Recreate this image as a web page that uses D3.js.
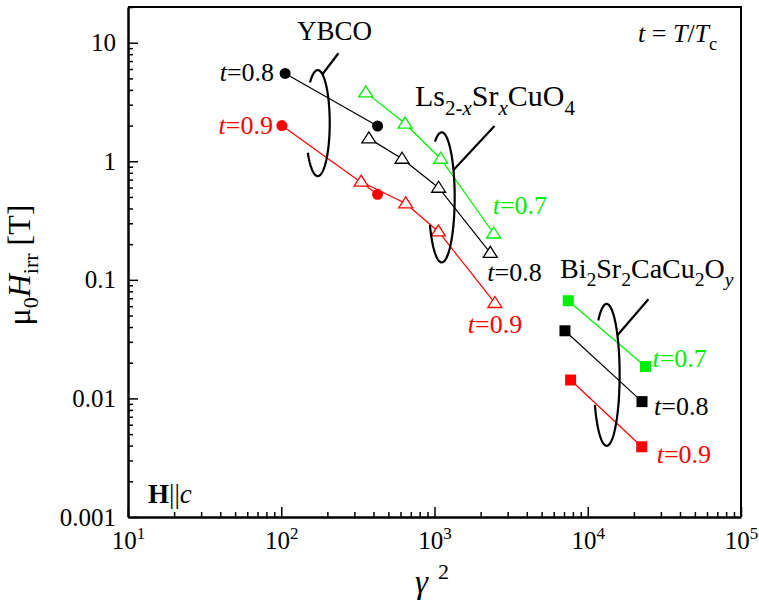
<!DOCTYPE html>
<html>
<head>
<meta charset="utf-8">
<script src="https://cdn.jsdelivr.net/npm/d3@7"></script>
<style>
  body { margin: 0; background: #fff; }
  svg text, svg tspan { font-family: "Liberation Serif", "Times New Roman", serif !important; }
</style>
</head>
<body>
<script>
// ---- data ----
var ybcoGamma2T08 = [106, 425];
var ybcoHirrT08 = [5.5, 1.98];
var ybcoGamma2T09 = [101, 425];
var ybcoHirrT09 = [2.0, 0.526];

var lscoGamma2T07 = [356, 643, 1097, 2432];
var lscoHirrT07 = [3.81, 2.08, 1.05, 0.246];
var lscoGamma2T08 = [373, 614, 1064, 2312];
var lscoHirrT08 = [1.56, 1.05, 0.598, 0.169];
var lscoGamma2T09 = [332, 649, 1059, 2477];
var lscoHirrT09 = [0.673, 0.441, 0.256, 0.0638];

var biGamma2T07 = [7460, 23800];
var biHirrT07 = [0.0667, 0.0186];
var biGamma2T08 = [7100, 22600];
var biHirrT08 = [0.0372, 0.0094];
var biGamma2T09 = [7730, 22500];
var biHirrT09 = [0.0143, 0.00391];

var xMajorTicks = [10, 100, 1000, 10000, 100000];
var xTickExp = ["1", "2", "3", "4", "5"];
var yMajorTicks = [0.001, 0.01, 0.1, 1, 10];
var yTickLabels = ["0.001", "0.01", "0.1", "1", "10"];

function zip(xs, ys) {
    return xs.map(function (v, i) { return { x: v, y: ys[i] }; });
}

var series = [
    { name: "ybco08", pts: zip(ybcoGamma2T08, ybcoHirrT08), color: "#000", marker: "circle" },
    { name: "ybco09", pts: zip(ybcoGamma2T09, ybcoHirrT09), color: "#ff0000", marker: "circle" },
    { name: "lsco07", pts: zip(lscoGamma2T07, lscoHirrT07), color: "#00ee00", marker: "triangle" },
    { name: "lsco08", pts: zip(lscoGamma2T08, lscoHirrT08), color: "#000", marker: "triangle" },
    { name: "lsco09", pts: zip(lscoGamma2T09, lscoHirrT09), color: "#ff0000", marker: "triangle" },
    { name: "bi07", pts: zip(biGamma2T07, biHirrT07), color: "#00ee00", marker: "square" },
    { name: "bi08", pts: zip(biGamma2T08, biHirrT08), color: "#000", marker: "square" },
    { name: "bi09", pts: zip(biGamma2T09, biHirrT09), color: "#ff0000", marker: "square" }
];

var FONT = "Liberation Serif";

// ---- layout ----
var margin = { top: 7, right: 18, bottom: 91, left: 128 },
    width = 759 - margin.left - margin.right,
    height = 608 - margin.top - margin.bottom;

var x = d3.scaleLog().domain([10, 100000]).range([0, width]);
var y = d3.scaleLog().domain([0.001, 20]).range([height, 0]);

var svg = d3.select("body").append("svg")
    .attr("width", 759)
    .attr("height", 608)
    .style("font-family", FONT)
    .append("g")
    .attr("transform", "translate(" + margin.left + "," + margin.top + ")");

// frame (top and right)
svg.append("path")
    .attr("d", "M0,0H" + width + "V" + height)
    .attr("fill", "none")
    .attr("stroke", "#000")
    .attr("stroke-width", 2);

// minor ticks
var xMinor = [];
[10, 100, 1000, 10000].forEach(function (d) {
    for (var k = 2; k <= 9; k++) xMinor.push(d * k);
});
var yMinor = [];
[0.001, 0.01, 0.1, 1, 10].forEach(function (d) {
    for (var k = 2; k <= 9; k++) if (d * k <= 20) yMinor.push(d * k);
});

svg.append("g")
    .attr("transform", "translate(0," + height + ")")
    .call(d3.axisBottom(x).tickValues(xMinor).tickSize(-5).tickFormat(""))
    .call(function (g) { g.select(".domain").remove(); })
    .selectAll("line").attr("stroke-width", 1.5);

svg.append("g")
    .call(d3.axisLeft(y).tickValues(yMinor).tickSize(-5).tickFormat(""))
    .call(function (g) { g.select(".domain").remove(); })
    .selectAll("line").attr("stroke-width", 1.5);

// major axes
var xAxisG = svg.append("g")
    .attr("transform", "translate(0," + height + ")")
    .call(d3.axisBottom(x).tickValues(xMajorTicks).tickSize(-10).tickSizeOuter(0)
        .tickPadding(14).tickFormat(""));
xAxisG.attr("font-family", FONT);
xAxisG.select(".domain").attr("stroke-width", 2.5);
xAxisG.selectAll("line").attr("stroke-width", 1.5);
xAxisG.selectAll(".tick text")
    .attr("font-size", 25)
    .attr("fill", "#000")
    .attr("dy", "0.71em")
    .each(function (d, i) {
        var t = d3.select(this);
        t.append("tspan").text("10");
        t.append("tspan").attr("dy", -10).attr("font-size", 17).text(xTickExp[i]);
    });

var yAxisG = svg.append("g")
    .call(d3.axisLeft(y).tickValues(yMajorTicks).tickSize(-10).tickSizeOuter(0)
        .tickPadding(12).tickFormat(function (d, i) { return yTickLabels[i]; }));
yAxisG.attr("font-family", FONT);
yAxisG.select(".domain").attr("stroke-width", 2.5);
yAxisG.selectAll("line").attr("stroke-width", 1.5);
yAxisG.selectAll(".tick text").attr("font-size", 25).attr("fill", "#000");

// axis titles
var xTitle = svg.append("text")
    .attr("x", 287)
    .attr("y", 586)
    .attr("font-size", 33);
xTitle.append("tspan").attr("font-style", "italic").text("\u03b3");
xTitle.append("tspan").attr("dx", 10).attr("dy", -14).attr("font-size", 22).text("2");

var yTitle = svg.append("text")
    .attr("transform", "translate(-98," + 258 + ") rotate(-90)")
    .attr("text-anchor", "middle")
    .attr("font-size", 32);
yTitle.append("tspan").text("\u03bc");
yTitle.append("tspan").attr("dy", 8).attr("font-size", 22).text("0");
yTitle.append("tspan").attr("dy", -8).attr("font-style", "italic").text("H");
yTitle.append("tspan").attr("dy", 8).attr("font-size", 22).text("irr");
yTitle.append("tspan").attr("dy", -8).text(" [T]");

// lines
var line = d3.line()
    .x(function (d) { return x(d.x); })
    .y(function (d) { return y(d.y); });

svg.selectAll(".series")
    .data(series)
    .enter()
    .append("path")
    .attr("class", "series")
    .attr("d", function (d) { return line(d.pts); })
    .attr("fill", "none")
    .attr("stroke", function (d) { return d.color; })
    .attr("stroke-width", 1.2);

// markers
var markerPath = {
    circle: d3.symbol().type(d3.symbolCircle).size(95)(),
    triangle: "M0,-6.5L7,4.5L-7,4.5Z",
    square: "M-5.5,-5.5H5.5V5.5H-5.5Z"
};
series.forEach(function (s) {
    svg.selectAll(".pt-" + s.name)
        .data(s.pts)
        .enter()
        .append("path")
        .attr("d", markerPath[s.marker])
        .attr("transform", function (d) { return "translate(" + x(d.x) + "," + y(d.y) + ")"; })
        .attr("fill", s.marker === "triangle" ? "#fff" : s.color)
        .attr("stroke", s.color)
        .attr("stroke-width", s.marker === "triangle" ? 1.3 : 0);
});

// t labels next to the series
function tLabel(px, py, color, val, anchor) {
    var t = svg.append("text")
        .attr("x", px).attr("y", py)
        .attr("font-size", 26)
        .attr("fill", color)
        .attr("text-anchor", anchor || "start");
    t.append("tspan").attr("font-style", "italic").text("t");
    t.append("tspan").text("=" + val);
}
function at(s, i) { return [x(s.pts[i].x), y(s.pts[i].y)]; }

var p;
p = at(series[0], 0); tLabel(p[0] - 11, p[1] + 8, "#000", "0.8", "end");
p = at(series[1], 0); tLabel(p[0] - 9, p[1] + 8, "#ff0000", "0.9", "end");
p = at(series[2], 3); tLabel(p[0] - 1, p[1] - 19, "#00ee00", "0.7");
p = at(series[3], 3); tLabel(p[0] - 3, p[1] + 28, "#000", "0.8");
p = at(series[4], 3); tLabel(p[0] - 27, p[1] + 30, "#ff0000", "0.9");
p = at(series[5], 1); tLabel(p[0] + 7, p[1] + 1, "#00ee00", "0.7");
p = at(series[6], 1); tLabel(p[0] + 12, p[1] + 13, "#000", "0.8");
p = at(series[7], 1); tLabel(p[0] + 15, p[1] + 16, "#ff0000", "0.9");

// group ellipses with leaders (centre in data units)
function groupEllipse(cx, cy, rx, ry, a0, a1, leadAngle, dx, dy) {
    var c = [x(cx), y(cy)];
    var pts = d3.range(a0, a1 + 1, 3).map(function (a) {
        var r = a * Math.PI / 180;
        return [c[0] + rx * Math.cos(r), c[1] + ry * Math.sin(r)];
    });
    svg.append("path")
        .attr("d", d3.line()(pts))
        .attr("fill", "none")
        .attr("stroke", "#000")
        .attr("stroke-width", 2.2);
    var lr = leadAngle * Math.PI / 180;
    var s0 = [c[0] + rx * Math.cos(lr), c[1] + ry * Math.sin(lr)];
    svg.append("line")
        .attr("x1", s0[0]).attr("y1", s0[1])
        .attr("x2", s0[0] + dx).attr("y2", s0[1] + dy)
        .attr("stroke", "#000")
        .attr("stroke-width", 2.2);
}
groupEllipse(173, 2.1, 12, 53, 230, 508, 293, 16, -21);
groupEllipse(1114, 0.496, 13, 65, 239, 515, 335, 41, -44);
groupEllipse(13280, 0.0158, 13, 71, 230, 517, 326, 31, -36);

// compound labels
function richText(px, py, size, parts) {
    var t = svg.append("text").attr("x", px).attr("y", py).attr("font-size", size);
    var shift = 0;
    parts.forEach(function (q) {
        var target = q.sub ? size * 0.3 : (q.sup ? -size * 0.4 : 0);
        var ts = t.append("tspan").text(q.t).attr("dy", target - shift);
        shift = target;
        if (q.sub || q.sup) ts.attr("font-size", size * 0.7);
        if (q.i) ts.attr("font-style", "italic");
        if (q.b) ts.attr("font-weight", "bold");
    });
    return t;
}

richText(297 - margin.left, 40 - margin.top, 27, [{ t: "YBCO" }]);
richText(415 - margin.left, 106 - margin.top, 30, [
    { t: "Ls" }, { t: "2-", sub: true }, { t: "x", sub: true, i: true },
    { t: "Sr" }, { t: "x", sub: true, i: true },
    { t: "CuO" }, { t: "4", sub: true }
]);
richText(560 - margin.left, 278 - margin.top, 28, [
    { t: "Bi" }, { t: "2", sub: true }, { t: "Sr" }, { t: "2", sub: true },
    { t: "CaCu" }, { t: "2", sub: true }, { t: "O" }, { t: "y", sub: true, i: true }
]);
richText(638 - margin.left, 42 - margin.top, 26, [
    { t: "t", i: true }, { t: " = " }, { t: "T", i: true }, { t: "/" },
    { t: "T", i: true }, { t: "c", sub: true }
]);
richText(148 - margin.left, 503 - margin.top, 27, [
    { t: "H", b: true }, { t: "||" }, { t: "c", i: true }
]);
</script>
</body>
</html>
